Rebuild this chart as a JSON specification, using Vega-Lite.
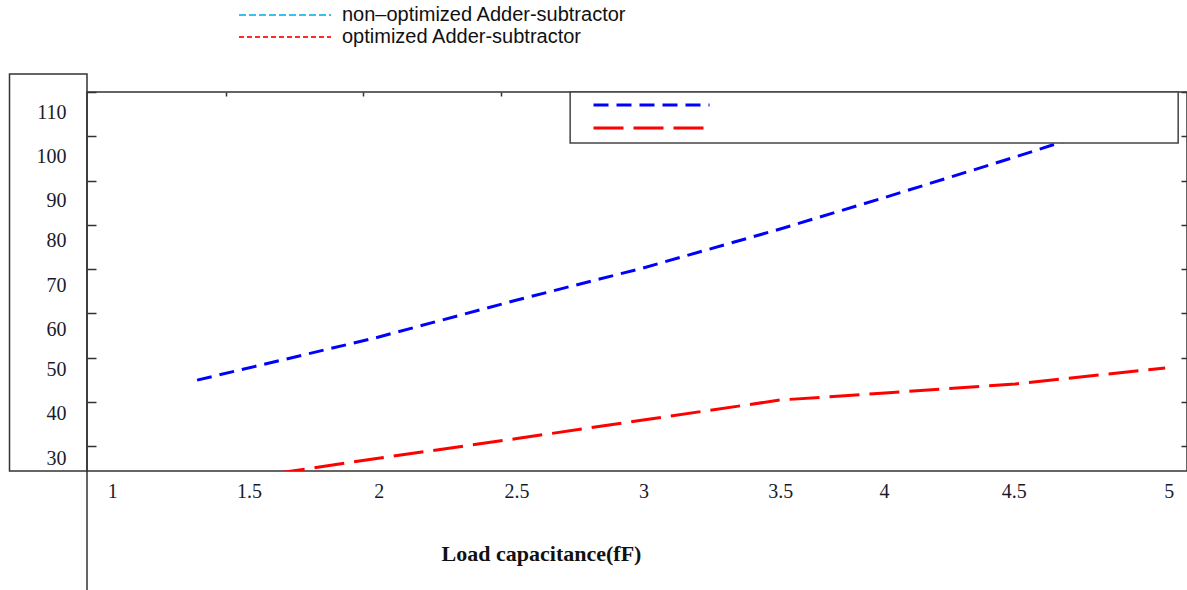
{
  "$schema": "https://vega.github.io/schema/vega-lite/v6.json",
  "width": 1100,
  "height": 379,
  "autosize": "none",
  "padding": {"left": 87, "top": 92, "right": 0, "bottom": 119},
  "background": "white",
  "config": {"view": {"stroke": "#333", "strokeWidth": 1.5}, "axis": {"grid": false}},
  "data": {
    "values": [
      {"series": "non–optimized Adder-subtractor", "cap": 1.30, "delay": 44.9},
      {"series": "non–optimized Adder-subtractor", "cap": 1.985, "delay": 54.42},
      {"series": "non–optimized Adder-subtractor", "cap": 2.532, "delay": 63.0},
      {"series": "non–optimized Adder-subtractor", "cap": 3.018, "delay": 70.24},
      {"series": "non–optimized Adder-subtractor", "cap": 3.546, "delay": 79.05},
      {"series": "non–optimized Adder-subtractor", "cap": 3.942, "delay": 86.05},
      {"series": "non–optimized Adder-subtractor", "cap": 4.451, "delay": 95.31},
      {"series": "non–optimized Adder-subtractor", "cap": 4.643, "delay": 98.93},
      {"series": "optimized Adder-subtractor", "cap": 1.60, "delay": 23.8},
      {"series": "optimized Adder-subtractor", "cap": 1.985, "delay": 27.15},
      {"series": "optimized Adder-subtractor", "cap": 2.532, "delay": 31.71},
      {"series": "optimized Adder-subtractor", "cap": 3.018, "delay": 35.89},
      {"series": "optimized Adder-subtractor", "cap": 3.546, "delay": 40.41},
      {"series": "optimized Adder-subtractor", "cap": 3.95, "delay": 41.99},
      {"series": "optimized Adder-subtractor", "cap": 4.451, "delay": 44.03},
      {"series": "optimized Adder-subtractor", "cap": 5.029, "delay": 47.64}
    ]
  },
  "resolve": {"axis": {"x": "independent", "y": "independent"}},
  "layer": [
    {
      "mark": {"type": "line", "clip": true, "strokeWidth": 3},
      "encoding": {
        "x": {
          "field": "cap", "type": "quantitative",
          "scale": {"domain": [0.876, 5.113], "nice": false, "zero": false},
          "axis": {
            "orient": "bottom", "values": [1, 1.5, 2, 2.5, 3, 3.5, 4, 4.5, 5], "format": "~g",
            "ticks": false, "domain": false,
            "labelFont": "Liberation Serif", "labelFontSize": 20, "labelColor": "#1a1a2a",
            "labelBaseline": "alphabetic", "labelPadding": 26, "labelFlush": false, "labelOverlap": false,
            "labelOffset": {"condition": [
              {"test": "datum.value == 1", "value": -7},
              {"test": "datum.value == 2.5", "value": 8},
              {"test": "datum.value == 3", "value": 5},
              {"test": "datum.value == 3.5", "value": 12},
              {"test": "datum.value == 4 || datum.value == 4.5", "value": -14},
              {"test": "datum.value == 5", "value": 11}
            ], "value": 0},
            "title": "Load capacitance(fF)", "titleFont": "Liberation Serif", "titleFontWeight": "bold",
            "titleFontSize": 22, "titleColor": "#111", "titleX": 454, "titleY": 89,
            "titleBaseline": "alphabetic", "titleAlign": "center"
          }
        },
        "y": {
          "field": "delay", "type": "quantitative",
          "scale": {"domain": [24.37, 110], "nice": false, "zero": false},
          "axis": {
            "orient": "left", "values": [30, 40, 50, 60, 70, 80, 90, 100, 110],
            "tickSize": -9, "tickColor": "#333", "tickWidth": 1.5, "domain": false,
            "labelFont": "Liberation Serif", "labelFontSize": 20, "labelColor": "#1a1a2a",
            "labelPadding": 30, "labelFlush": false, "labelOverlap": false,
            "labelOffset": {"condition": [
              {"test": "datum.value >= 90", "value": 20},
              {"test": "datum.value >= 60", "value": 16}
            ], "value": 12},
            "title": null
          }
        },
        "color": {
          "field": "series", "type": "nominal",
          "scale": {"range": ["#0000ff", "#ff0000"]},
          "legend": {
            "orient": "none", "legendX": 505, "legendY": 1.5, "title": null, "labelExpr": "''",
            "symbolType": "stroke", "symbolSize": 13456, "symbolStrokeWidth": 3,
            "clipHeight": 23, "rowPadding": 0, "padding": 0, "labelOffset": 0
          }
        },
        "strokeDash": {
          "field": "series", "type": "nominal",
          "scale": {"range": [[15, 8], [30, 10]]},
          "legend": {
            "orient": "none", "legendX": 505, "legendY": 1.5, "title": null, "labelExpr": "''",
            "symbolType": "stroke", "symbolSize": 13456, "symbolStrokeWidth": 3,
            "clipHeight": 23, "rowPadding": 0, "padding": 0, "labelOffset": 0
          }
        }
      }
    },
    {
      "mark": {"type": "line", "opacity": 0},
      "encoding": {
        "x": {
          "field": "cap", "type": "quantitative",
          "axis": {"orient": "top", "values": [1.41, 1.94, 2.47], "labels": false, "domain": false,
                   "tickSize": -4, "tickColor": "#333", "tickWidth": 1.5, "title": null}
        },
        "y": {
          "field": "delay", "type": "quantitative",
          "axis": {"orient": "right", "values": [30, 40, 50, 60, 70, 80, 90, 100, 110], "labels": false,
                   "domain": false, "tickSize": -6, "tickColor": "#333", "tickWidth": 1.5, "title": null}
        },
        "stroke": {
          "field": "series", "type": "nominal",
          "scale": {"domain": ["non–optimized Adder-subtractor", "optimized Adder-subtractor"], "range": ["#38c0f0", "#ff2a2a"]},
          "legend": {
            "orient": "none", "legendX": 151, "legendY": -88, "title": null,
            "symbolType": "stroke", "symbolSize": 8464, "symbolStrokeWidth": 2, "symbolOpacity": 1,
            "clipHeight": 22, "rowPadding": 0, "padding": 0, "labelOffset": 10,
            "labelFont": "Liberation Sans", "labelFontSize": 20, "labelColor": "#111", "labelLimit": 700,
            "encode": {"symbols": {"update": {"strokeDash": {"signal": "indexof(datum.value, 'non') === 0 ? [7, 3] : [5, 3]"}}}}
          }
        }
      }
    },
    {
      "data": {"values": [{}]},
      "mark": {"type": "rect", "fill": "white", "stroke": "#444", "strokeWidth": 1.5},
      "encoding": {
        "x": {"datum": 2.737, "type": "quantitative", "axis": null},
        "x2": {"datum": 5.079},
        "y": {"datum": 110, "type": "quantitative", "axis": null},
        "y2": {"datum": 98.48}
      }
    },
    {
      "data": {"values": [{}]},
      "mark": {"type": "rect", "filled": false, "color": "#333", "strokeWidth": 1.5},
      "encoding": {
        "x": {"datum": 0.5775, "type": "quantitative", "axis": null},
        "x2": {"datum": 0.876},
        "y": {"datum": 24.37, "type": "quantitative", "axis": null},
        "y2": {"datum": 114.07}
      }
    },
    {
      "data": {"values": [{}]},
      "mark": {"type": "rule", "color": "#333", "strokeWidth": 1.5},
      "encoding": {
        "x": {"datum": 0.876, "type": "quantitative", "axis": null},
        "y": {"datum": 24.37, "type": "quantitative", "axis": null},
        "y2": {"datum": -3}
      }
    }
  ]
}
